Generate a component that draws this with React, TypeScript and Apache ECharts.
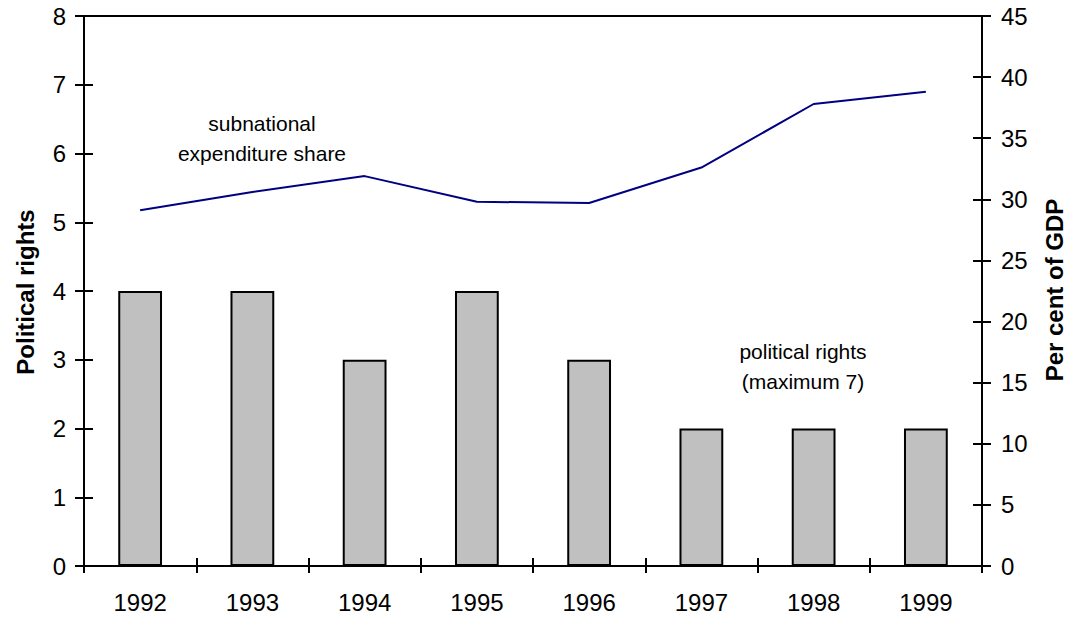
import React, { useEffect, useRef } from "react";
import * as echarts from "echarts";

const years = ["1992", "1993", "1994", "1995", "1996", "1997", "1998", "1999"];
const politicalRights = [4, 4, 3, 4, 3, 2, 2, 2];
const expenditureShare = [29.1, 30.6, 31.9, 29.8, 29.7, 32.6, 37.8, 38.8];

const FONT = "'Liberation Sans', Arial, Helvetica, sans-serif";
const BLACK = "#000";

export default function App() {
  const ref = useRef<HTMLDivElement>(null);
  useEffect(() => {
    document.body.style.margin = "0";
    if (!ref.current) return;
    const chart = echarts.init(ref.current, null, { renderer: "svg" });
    const label = { color: BLACK, fontSize: 24, fontFamily: FONT };
    const yBase = (min: number, max: number, interval: number, pos: string) => ({
      type: "value",
      min,
      max,
      interval,
      position: pos,
      splitLine: { show: false },
      axisLine: { show: true, lineStyle: { color: BLACK, width: 2 } },
    });
    chart.setOption({
      animation: false,
      grid: {
        left: 84,
        right: 86,
        top: 16,
        bottom: 56,
        show: true,
        borderColor: BLACK,
        borderWidth: 2,
        outerBoundsMode: "none",
        containLabel: false,
      },
      xAxis: [
        {
          type: "category",
          data: years,
          position: "bottom",
          axisLine: { show: true, lineStyle: { color: BLACK, width: 2 } },
          axisTick: { show: true, length: 7, lineStyle: { color: BLACK, width: 2 } },
          axisLabel: { ...label, margin: 24 },
        },
        {
          type: "category",
          data: years,
          position: "bottom",
          axisLine: { show: false },
          axisTick: { show: true, inside: true, length: 8, lineStyle: { color: BLACK, width: 2 } },
          axisLabel: { show: false },
        },
      ],
      yAxis: [
        {
          ...yBase(0, 8, 1, "left"),
          axisTick: { show: true, length: 9, lineStyle: { color: BLACK, width: 2 } },
          axisLabel: { ...label, margin: 18 },
        },
        {
          ...yBase(0, 45, 5, "right"),
          axisTick: { show: true, length: 9, lineStyle: { color: BLACK, width: 2 } },
          axisLabel: { ...label, margin: 19 },
        },
        {
          ...yBase(0, 8, 1, "left"),
          axisTick: { show: true, inside: true, length: 9, lineStyle: { color: BLACK, width: 2 } },
          axisLabel: { show: false },
        },
        {
          ...yBase(0, 45, 5, "right"),
          axisTick: { show: true, inside: true, length: 9, lineStyle: { color: BLACK, width: 2 } },
          axisLabel: { show: false },
        },
      ],
      series: [
        {
          type: "bar",
          name: "political rights",
          data: politicalRights,
          xAxisIndex: 0,
          yAxisIndex: 0,
          barWidth: "39%",
          itemStyle: { color: "#c0c0c0", borderColor: BLACK, borderWidth: 2 },
        },
        {
          type: "line",
          name: "subnational expenditure share",
          data: expenditureShare,
          xAxisIndex: 0,
          yAxisIndex: 1,
          showSymbol: false,
          symbol: "none",
          lineStyle: { color: "#000080", width: 2 },
          itemStyle: { color: "#000080" },
        },
      ],
      graphic: [
        {
          type: "text",
          x: 25,
          y: 292,
          rotation: Math.PI / 2,
          style: {
            text: "Political rights",
            fontSize: 24,
            fontWeight: "bold",
            fontFamily: FONT,
            fill: BLACK,
            align: "center",
            verticalAlign: "middle",
          },
        },
        {
          type: "text",
          x: 1054,
          y: 290,
          rotation: Math.PI / 2,
          style: {
            text: "Per cent of GDP",
            fontSize: 24,
            fontWeight: "bold",
            fontFamily: FONT,
            fill: BLACK,
            align: "center",
            verticalAlign: "middle",
          },
        },
        {
          type: "text",
          x: 262,
          y: 138,
          style: {
            text: "subnational\nexpenditure share",
            fontSize: 21,
            lineHeight: 30,
            fontFamily: FONT,
            fill: BLACK,
            align: "center",
            verticalAlign: "middle",
          },
        },
        {
          type: "text",
          x: 803,
          y: 366,
          style: {
            text: "political rights\n(maximum 7)",
            fontSize: 21,
            lineHeight: 30,
            fontFamily: FONT,
            fill: BLACK,
            align: "center",
            verticalAlign: "middle",
          },
        },
      ],
    });
    return () => chart.dispose();
  }, []);
  return <div ref={ref} style={{ width: 1068, height: 622 }} />;
}
